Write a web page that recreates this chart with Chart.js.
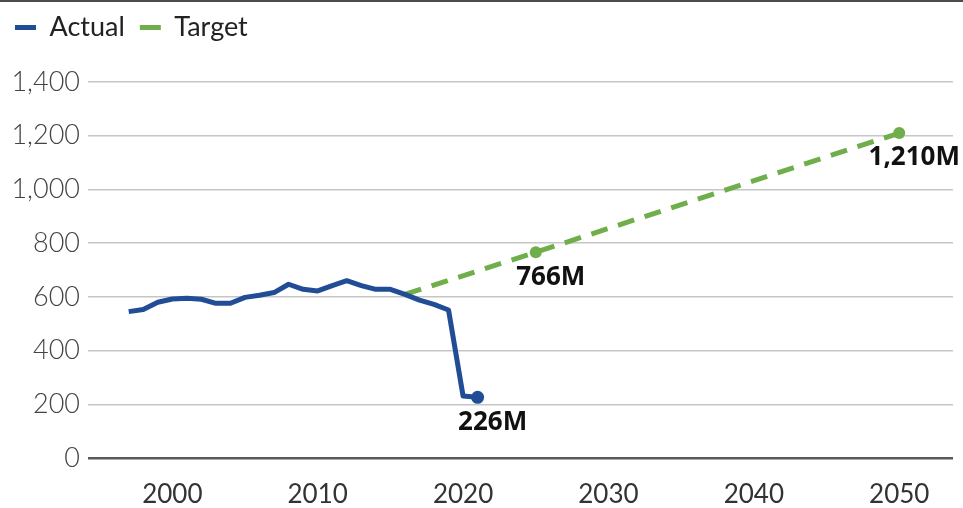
<!DOCTYPE html>
<html lang="en">
  <head>
    <meta charset="UTF-8" />
    <title>Actual vs Target</title>
    <script src="https://cdn.jsdelivr.net/npm/chart.js"></script>
    <style>
      body {
        margin: 0;
        background: #ffffff;
      }
      .wrap {
        position: relative;
        width: 963px;
        height: 506px;
        border-top: 2px solid #4d4d4d;
      }
    </style>
  </head>
  <body>
    <div class="wrap"><canvas id="chart"></canvas></div>

    <script>
      // Actual series, one value per year 1997-2021
      const actualYears = [
        1997, 1998, 1999, 2000, 2001, 2002, 2003, 2004, 2005, 2006, 2007,
        2008, 2009, 2010, 2011, 2012, 2013, 2014, 2015, 2016, 2017, 2018,
        2019, 2020, 2021,
      ];
      const actualValues = [
        545, 553, 580, 592, 595, 591, 576, 576, 598, 606, 616, 647, 628, 622,
        642, 660, 642, 628, 628, 609, 588, 572, 551, 231, 226,
      ];

      // Target path, starting from the 2016 actual
      const targetYears = [2016, 2025, 2050];
      const targetValues = [609, 766, 1210];

      // values that get a label next to their point
      const labelled = { Actual: [2021], Target: [2025, 2050] };

      const blue = "#214d97";
      const green = "#6fae4a";

      const toPoints = (xs, ys) => xs.map((x, i) => ({ x, y: ys[i] }));

      const endLabels = {
        id: "endLabels",
        afterDatasetsDraw(chart) {
          const { ctx } = chart;
          ctx.save();
          ctx.font = "bold 26px 'Open Sans', sans-serif";
          ctx.fillStyle = "#111111";
          ctx.textAlign = "center";
          ctx.textBaseline = "middle";
          chart.data.datasets.forEach((ds, di) => {
            const meta = chart.getDatasetMeta(di);
            ds.data.forEach((p, i) => {
              if (!labelled[ds.label].includes(p.x)) return;
              const el = meta.data[i];
              const txt = p.y.toLocaleString("en-US") + "M";
              ctx.fillText(txt, el.x + 15, el.y + 25);
            });
          });
          ctx.restore();
        },
      };

      const legendHeight = {
        id: "legendHeight",
        beforeInit(chart) {
          const fit = chart.legend.fit;
          chart.legend.fit = function () {
            fit.bind(chart.legend)();
            this.height = 83;
          };
        },
      };

      new Chart(document.getElementById("chart"), {
        type: "line",
        data: {
          datasets: [
            {
              label: "Actual",
              data: toPoints(actualYears, actualValues),
              borderColor: blue,
              backgroundColor: blue,
              borderWidth: 5,
              pointRadius: (c) =>
                labelled.Actual.includes(actualYears[c.dataIndex]) ? 6.5 : 0,
              pointBorderWidth: 0,
              borderJoinStyle: "round",
              tension: 0,
            },
            {
              label: "Target",
              data: toPoints(targetYears, targetValues),
              borderColor: green,
              backgroundColor: green,
              borderWidth: 5,
              borderDash: [17, 11],
              pointRadius: (c) =>
                labelled.Target.includes(targetYears[c.dataIndex]) ? 6 : 0,
              pointBorderWidth: 0,
              tension: 0,
            },
          ],
        },
        options: {
          responsive: true,
          maintainAspectRatio: false,
          animation: false,
          layout: { padding: { left: 0, right: 10, top: -3, bottom: 0 } },
          scales: {
            x: {
              type: "linear",
              min: 1994.2,
              max: 2053.7,
              afterFit: (s) => (s.height = 50),
              border: { display: false },
              grid: { display: false, drawTicks: false },
              ticks: {
                stepSize: 10,
                includeBounds: false,
                padding: 21,
                color: "#333333",
                font: { family: "Lato", size: 26 },
                callback: (v) => (v % 10 === 0 ? String(v) : null),
              },
            },
            y: {
              min: 0,
              max: 1400,
              afterFit: (s) => (s.width = 88),
              border: { display: false },
              grid: {
                drawTicks: false,
                color: (c) => (c.tick.value === 0 ? "#595959" : "#c6c6c6"),
                lineWidth: (c) => (c.tick.value === 0 ? 2.5 : 1.5),
              },
              ticks: {
                stepSize: 200,
                padding: 8,
                color: "#444444",
                font: { family: "Lato", size: 27, weight: "300" },
                callback: (v) => v.toLocaleString("en-US"),
              },
            },
          },
          plugins: {
            legend: {
              position: "top",
              align: "start",
              labels: {
                boxWidth: 21,
                boxHeight: 5,
                padding: 15,
                color: "#222222",
                font: { family: "Lato", size: 27 },
                generateLabels: (chart) =>
                  chart.data.datasets.map((ds, i) => ({
                    text: ds.label,
                    fillStyle: ds.borderColor,
                    strokeStyle: ds.borderColor,
                    lineWidth: 0,
                    fontColor: "#222222",
                    datasetIndex: i,
                  })),
              },
            },
            tooltip: { enabled: false },
          },
        },
        plugins: [legendHeight, endLabels],
      });
    </script>
  </body>
</html>
